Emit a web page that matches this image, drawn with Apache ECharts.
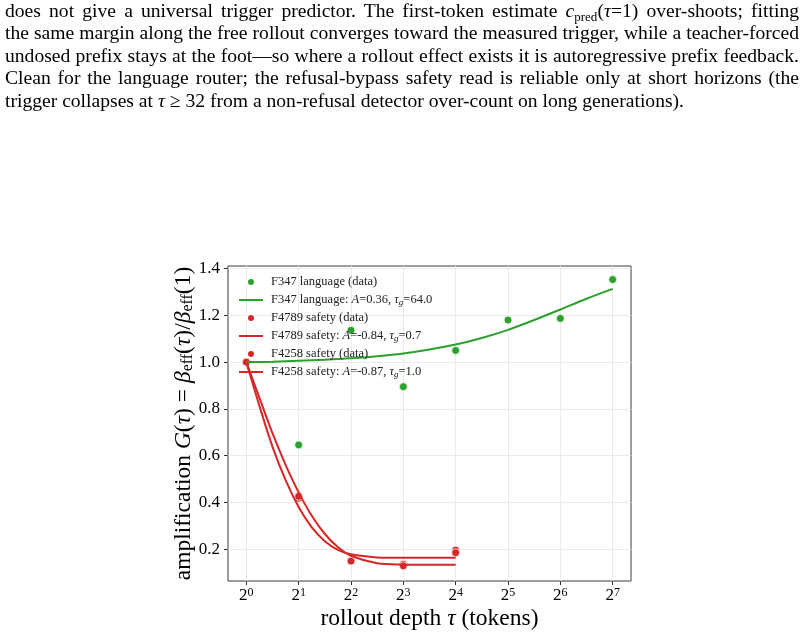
<!DOCTYPE html>
<html lang="en">
<head>
    <meta charset="UTF-8">
    <title>amplification vs rollout depth</title>
    <script src="https://cdn.jsdelivr.net/npm/echarts@6/dist/echarts.min.js"></script>
    <style>
        html, body { margin: 0; padding: 0; background: #fff; }
        #chart { position: absolute; left: 0; top: 0; width: 804px; height: 635px; }
        .para { position: absolute; left: 5px; top: 0; width: 794px;
                font-family: "Liberation Serif", serif; font-size: 19.6px; line-height: 22.4px; color: #000; }
        .para div { text-align: justify; text-align-last: justify; white-space: nowrap; }
        .para div.last { text-align-last: left; }
        .para i { font-style: italic; }
        .para sub { font-size: 13px; vertical-align: -4px; line-height: 0; }
    </style>
</head>
<body>
<div id="chart"></div>
<!--正文段落-->
<div class="para">
    <div>does not give a universal trigger predictor. The first-token estimate <i>c</i><sub>pred</sub>(<i>τ</i>=1) over-shoots; fitting</div>
    <div>the same margin along the free rollout converges toward the measured trigger, while a teacher-forced</div>
    <div>undosed prefix stays at the foot—so where a rollout effect exists it is autoregressive prefix feedback.</div>
    <div>Clean for the language router; the refusal-bypass safety read is reliable only at short horizons (the</div>
    <div class="last">trigger collapses at <i>τ</i> ≥ 32 from a non-refusal detector over-count on long generations).</div>
</div>
<script>
    // measured points
    var dataTau = [1, 2, 4, 8, 16, 32, 64, 128];
    var langData = [1.0, 0.646, 1.136, 0.895, 1.05, 1.18, 1.187, 1.353];
    var safeTau = [1, 2, 4, 8, 16];
    var f4789Data = [1.0, 0.418, 0.149, 0.136, 0.196];
    var f4258Data = [1.0, 0.426, 0.149, 0.129, 0.185];

    // fit curves
    var langFitTau = [1, 1.41, 2, 2.83, 4, 5.66, 8, 11.31, 16, 22.6, 32, 45.3, 64, 90.5, 128];
    var langFit = [1.0, 1.002, 1.006, 1.010, 1.016, 1.025, 1.037, 1.054, 1.075, 1.103, 1.138, 1.180, 1.225, 1.271, 1.313];
    var safeFitTau = [1, 1.19, 1.41, 1.68, 2, 2.38, 2.83, 3.36, 4, 5.66, 8, 11.31, 16];
    var f4789Fit = [1.0, 0.812, 0.641, 0.496, 0.380, 0.293, 0.234, 0.197, 0.178, 0.165, 0.163, 0.163, 0.163];
    var f4258Fit = [1.0, 0.847, 0.698, 0.562, 0.443, 0.343, 0.265, 0.209, 0.172, 0.140, 0.134, 0.133, 0.133];

    var xTicks = [1, 2, 4, 8, 16, 32, 64, 128];
    var yTicks = [0.2, 0.4, 0.6, 0.8, 1.0, 1.2, 1.4];

    var names = [
        'F347 language (data)',
        'F347 language: A=0.36, τg=64.0',
        'F4789 safety (data)',
        'F4789 safety: A=-0.84, τg=0.7',
        'F4258 safety (data)',
        'F4258 safety: A=-0.87, τg=1.0'
    ];
    var labels = [
        'F347 language (data)',
        'F347 language: {i|A}=0.36, {i|τ}{s|g}=64.0',
        'F4789 safety (data)',
        'F4789 safety: {i|A}=-0.84, {i|τ}{s|g}=0.7',
        'F4258 safety (data)',
        'F4258 safety: {i|A}=-0.87, {i|τ}{s|g}=1.0'
    ];

    var GREEN = '#2ca02c', RED = '#d62728';
    var serif = 'Liberation Serif';

    function pairs(xs, ys) {
        return xs.map(function (x, i) { return [x, ys[i]]; });
    }
    function dots(name, xs, ys, color) {
        return {
            name: name, type: 'scatter', data: pairs(xs, ys), symbolSize: 8,
            itemStyle: { color: color, borderColor: '#fff', borderWidth: 0.8, opacity: 1 }
        };
    }
    function curve(name, xs, ys, color) {
        return {
            name: name, type: 'line', data: pairs(xs, ys), symbol: 'none', showSymbol: false,
            smooth: 0.3,
            lineStyle: { color: color, width: 2 }, itemStyle: { color: color }
        };
    }

    // legend: lines without the dot
    var legendData = names.map(function (n, i) {
        return i % 2 ? { name: n, itemStyle: { opacity: 0 } } : { name: n };
    });

    var chart = echarts.init(document.getElementById('chart'));
    var option = {
        animation: false,
        backgroundColor: 'rgba(0,0,0,0)',
        grid: { left: 228, right: 173, top: 266, bottom: 54, show: true,
                borderColor: '#3c3c3c', borderWidth: 1, backgroundColor: 'transparent' },
        legend: {
            orient: 'vertical', left: 233, top: 270, itemWidth: 24, itemHeight: 8, itemGap: 4,
            data: legendData,
            formatter: function (n) { return labels[names.indexOf(n)]; },
            textStyle: {
                fontFamily: serif, fontSize: 12.5, color: '#222', lineHeight: 14, padding: [0, 0, 0, 3],
                rich: {
                    i: { fontFamily: serif, fontSize: 12.5, fontStyle: 'italic', color: '#222' },
                    s: { fontFamily: serif, fontSize: 9, fontStyle: 'italic', color: '#222', verticalAlign: 'bottom' }
                }
            }
        },
        xAxis: {
            type: 'log', logBase: 2, min: Math.pow(2, -0.35), max: Math.pow(2, 7.35),
            axisLine: { show: false },
            axisTick: { show: true, length: 4, customValues: xTicks, lineStyle: { color: '#333' } },
            splitLine: { show: true, lineStyle: { color: '#ebebeb', width: 1 } },
            axisLabel: {
                customValues: xTicks, margin: 6, color: '#000',
                formatter: function (v) { return '{b|2}{s|' + Math.round(Math.log2(v)) + '}'; },
                rich: {
                    b: { fontFamily: serif, fontSize: 17, color: '#000' },
                    s: { fontFamily: serif, fontSize: 12, color: '#000', verticalAlign: 'top', padding: [0, 0, 6, 0] }
                }
            },
            name: '{t|rollout depth }{i|τ}{t| (tokens)}',
            nameLocation: 'middle', nameGap: 26,
            nameTextStyle: {
                rich: {
                    t: { fontFamily: serif, fontSize: 23.5, color: '#000' },
                    i: { fontFamily: serif, fontSize: 23.5, fontStyle: 'italic', color: '#000' }
                }
            }
        },
        yAxis: {
            type: 'value', min: 0.064, max: 1.411,
            axisLine: { show: false },
            axisTick: { show: true, length: 4, customValues: yTicks, lineStyle: { color: '#333' } },
            splitLine: { show: true, lineStyle: { color: '#ebebeb', width: 1 } },
            axisLabel: {
                customValues: yTicks, margin: 8, color: '#000', fontFamily: serif, fontSize: 17,
                formatter: function (v) { return v.toFixed(1); }
            },
            name: '{t|amplification }{i|G}{t|(}{i|τ}{t|) = }{i|β}{s|eff}{t|(}{i|τ}{t|)/}{i|β}{s|eff}{t|(1)}',
            nameLocation: 'middle', nameGap: 32, nameRotate: 90, nameMoveOverlap: false,
            nameTextStyle: {
                rich: {
                    t: { fontFamily: serif, fontSize: 23.5, color: '#000' },
                    i: { fontFamily: serif, fontSize: 23.5, fontStyle: 'italic', color: '#000' },
                    s: { fontFamily: serif, fontSize: 16, color: '#000', verticalAlign: 'bottom' }
                }
            }
        },
        series: [
            dots(names[0], dataTau, langData, GREEN),
            curve(names[1], langFitTau, langFit, GREEN),
            dots(names[2], safeTau, f4789Data, RED),
            curve(names[3], safeFitTau, f4789Fit, RED),
            dots(names[4], safeTau, f4258Data, RED),
            curve(names[5], safeFitTau, f4258Fit, RED)
        ]
    };
    chart.setOption(option);
</script>
</body>
</html>
